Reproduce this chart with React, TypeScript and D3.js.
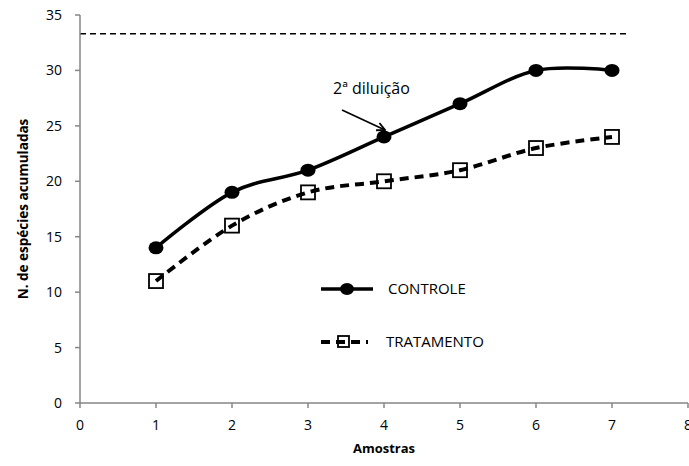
import * as d3 from "d3";

const width = 689;
const height = 466;
const margin = { top: 15, right: 1, bottom: 63, left: 80 };

const amostras = [1, 2, 3, 4, 5, 6, 7];
const controle = [14, 19, 21, 24, 27, 30, 30];
const tratamento = [11, 16, 19, 20, 21, 23, 24];
const xTicks = [0, 1, 2, 3, 4, 5, 6, 7, 8];
const yTicks = [0, 5, 10, 15, 20, 25, 30, 35];
const referencia = 33.3;

const font = "'Open Sans', sans-serif";
const axisColor = "#868686";

export default function App() {
  const x = d3.scaleLinear().domain([0, 8]).range([margin.left, 688]);
  const y = d3.scaleLinear().domain([0, 35]).range([height - margin.bottom, margin.top]);

  const line = d3
    .line<number>()
    .x((_, i) => x(amostras[i]))
    .y((d) => y(d))
    .curve(d3.curveCardinal.tension(0));

  const y0 = y(0);

  return (
    <svg
      width={width}
      height={height}
      style={{ position: "absolute", left: 0, top: 0, background: "#fff" }}
      fontFamily={font}
    >
      <defs>
        <marker id="arrow" viewBox="0 0 10 10" refX="9" refY="5" markerWidth="10" markerHeight="10" orient="auto" markerUnits="userSpaceOnUse">
          <path d="M1,1 L9,5 L1,9" fill="none" stroke="#000" strokeWidth={1.8} />
        </marker>
      </defs>

      {/* reference line */}
      <line x1={x(0)} x2={626} y1={y(referencia)} y2={y(referencia)} stroke="#000" strokeWidth={1.5} strokeDasharray="6,4" />

      {/* axes */}
      <line x1={x(0)} x2={x(0)} y1={y(35)} y2={y0} stroke={axisColor} strokeWidth={1.5} />
      <line x1={x(0)} x2={x(8)} y1={y0} y2={y0} stroke={axisColor} strokeWidth={1.5} />
      {yTicks.map((t) => (
        <g key={"y" + t}>
          <line x1={x(0) - 5} x2={x(0)} y1={y(t)} y2={y(t)} stroke={axisColor} strokeWidth={1.5} />
          <text x={x(0) - 18} y={y(t)} dy="0.36em" textAnchor="end" fontSize={14} fill="#000">
            {t}
          </text>
        </g>
      ))}
      {xTicks.map((t) => (
        <g key={"x" + t}>
          <line x1={x(t)} x2={x(t)} y1={y0} y2={y0 + 5} stroke={axisColor} strokeWidth={1.5} />
          <text x={x(t)} y={430} textAnchor="middle" fontSize={14} fill="#000">
            {t}
          </text>
        </g>
      ))}

      <text x={384} y={453} textAnchor="middle" fontSize={13} fontWeight="bold">
        Amostras
      </text>
      <text transform={`translate(28,${(y(35) + y0) / 2}) rotate(-90)`} textAnchor="middle" fontSize={13.5} fontWeight="bold">
        N. de espécies acumuladas
      </text>

      {/* series */}
      <path d={line(tratamento) ?? ""} fill="none" stroke="#000" strokeWidth={4} strokeDasharray="9,6" />
      <path d={line(controle) ?? ""} fill="none" stroke="#000" strokeWidth={3.5} />

      {controle.map((v, i) => (
        <ellipse key={"c" + i} cx={x(amostras[i])} cy={y(v)} rx={7.5} ry={6.5} fill="#000" />
      ))}
      {tratamento.map((v, i) => (
        <rect key={"t" + i} x={x(amostras[i]) - 7} y={y(v) - 7} width={14} height={14} fill="none" stroke="#000" strokeWidth={1.8} />
      ))}

      {/* annotation */}
      <text x={333} y={94} fontSize={16}>
        2ª diluição
      </text>
      <line x1={342} y1={110} x2={385} y2={130} stroke="#000" strokeWidth={1.6} markerEnd="url(#arrow)" />

      {/* legend */}
      <line x1={321} x2={373} y1={289} y2={289} stroke="#000" strokeWidth={3.5} />
      <ellipse cx={347} cy={289} rx={7} ry={6} fill="#000" />
      <text x={388} y={289} dy="0.36em" fontSize={15}>
        CONTROLE
      </text>
      <line x1={321} x2={368} y1={342} y2={342} stroke="#000" strokeWidth={4} strokeDasharray="9,6" />
      <rect x={338} y={336} width={11} height={11} fill="none" stroke="#000" strokeWidth={1.8} />
      <text x={386} y={342} dy="0.36em" fontSize={15}>
        TRATAMENTO
      </text>
    </svg>
  );
}
